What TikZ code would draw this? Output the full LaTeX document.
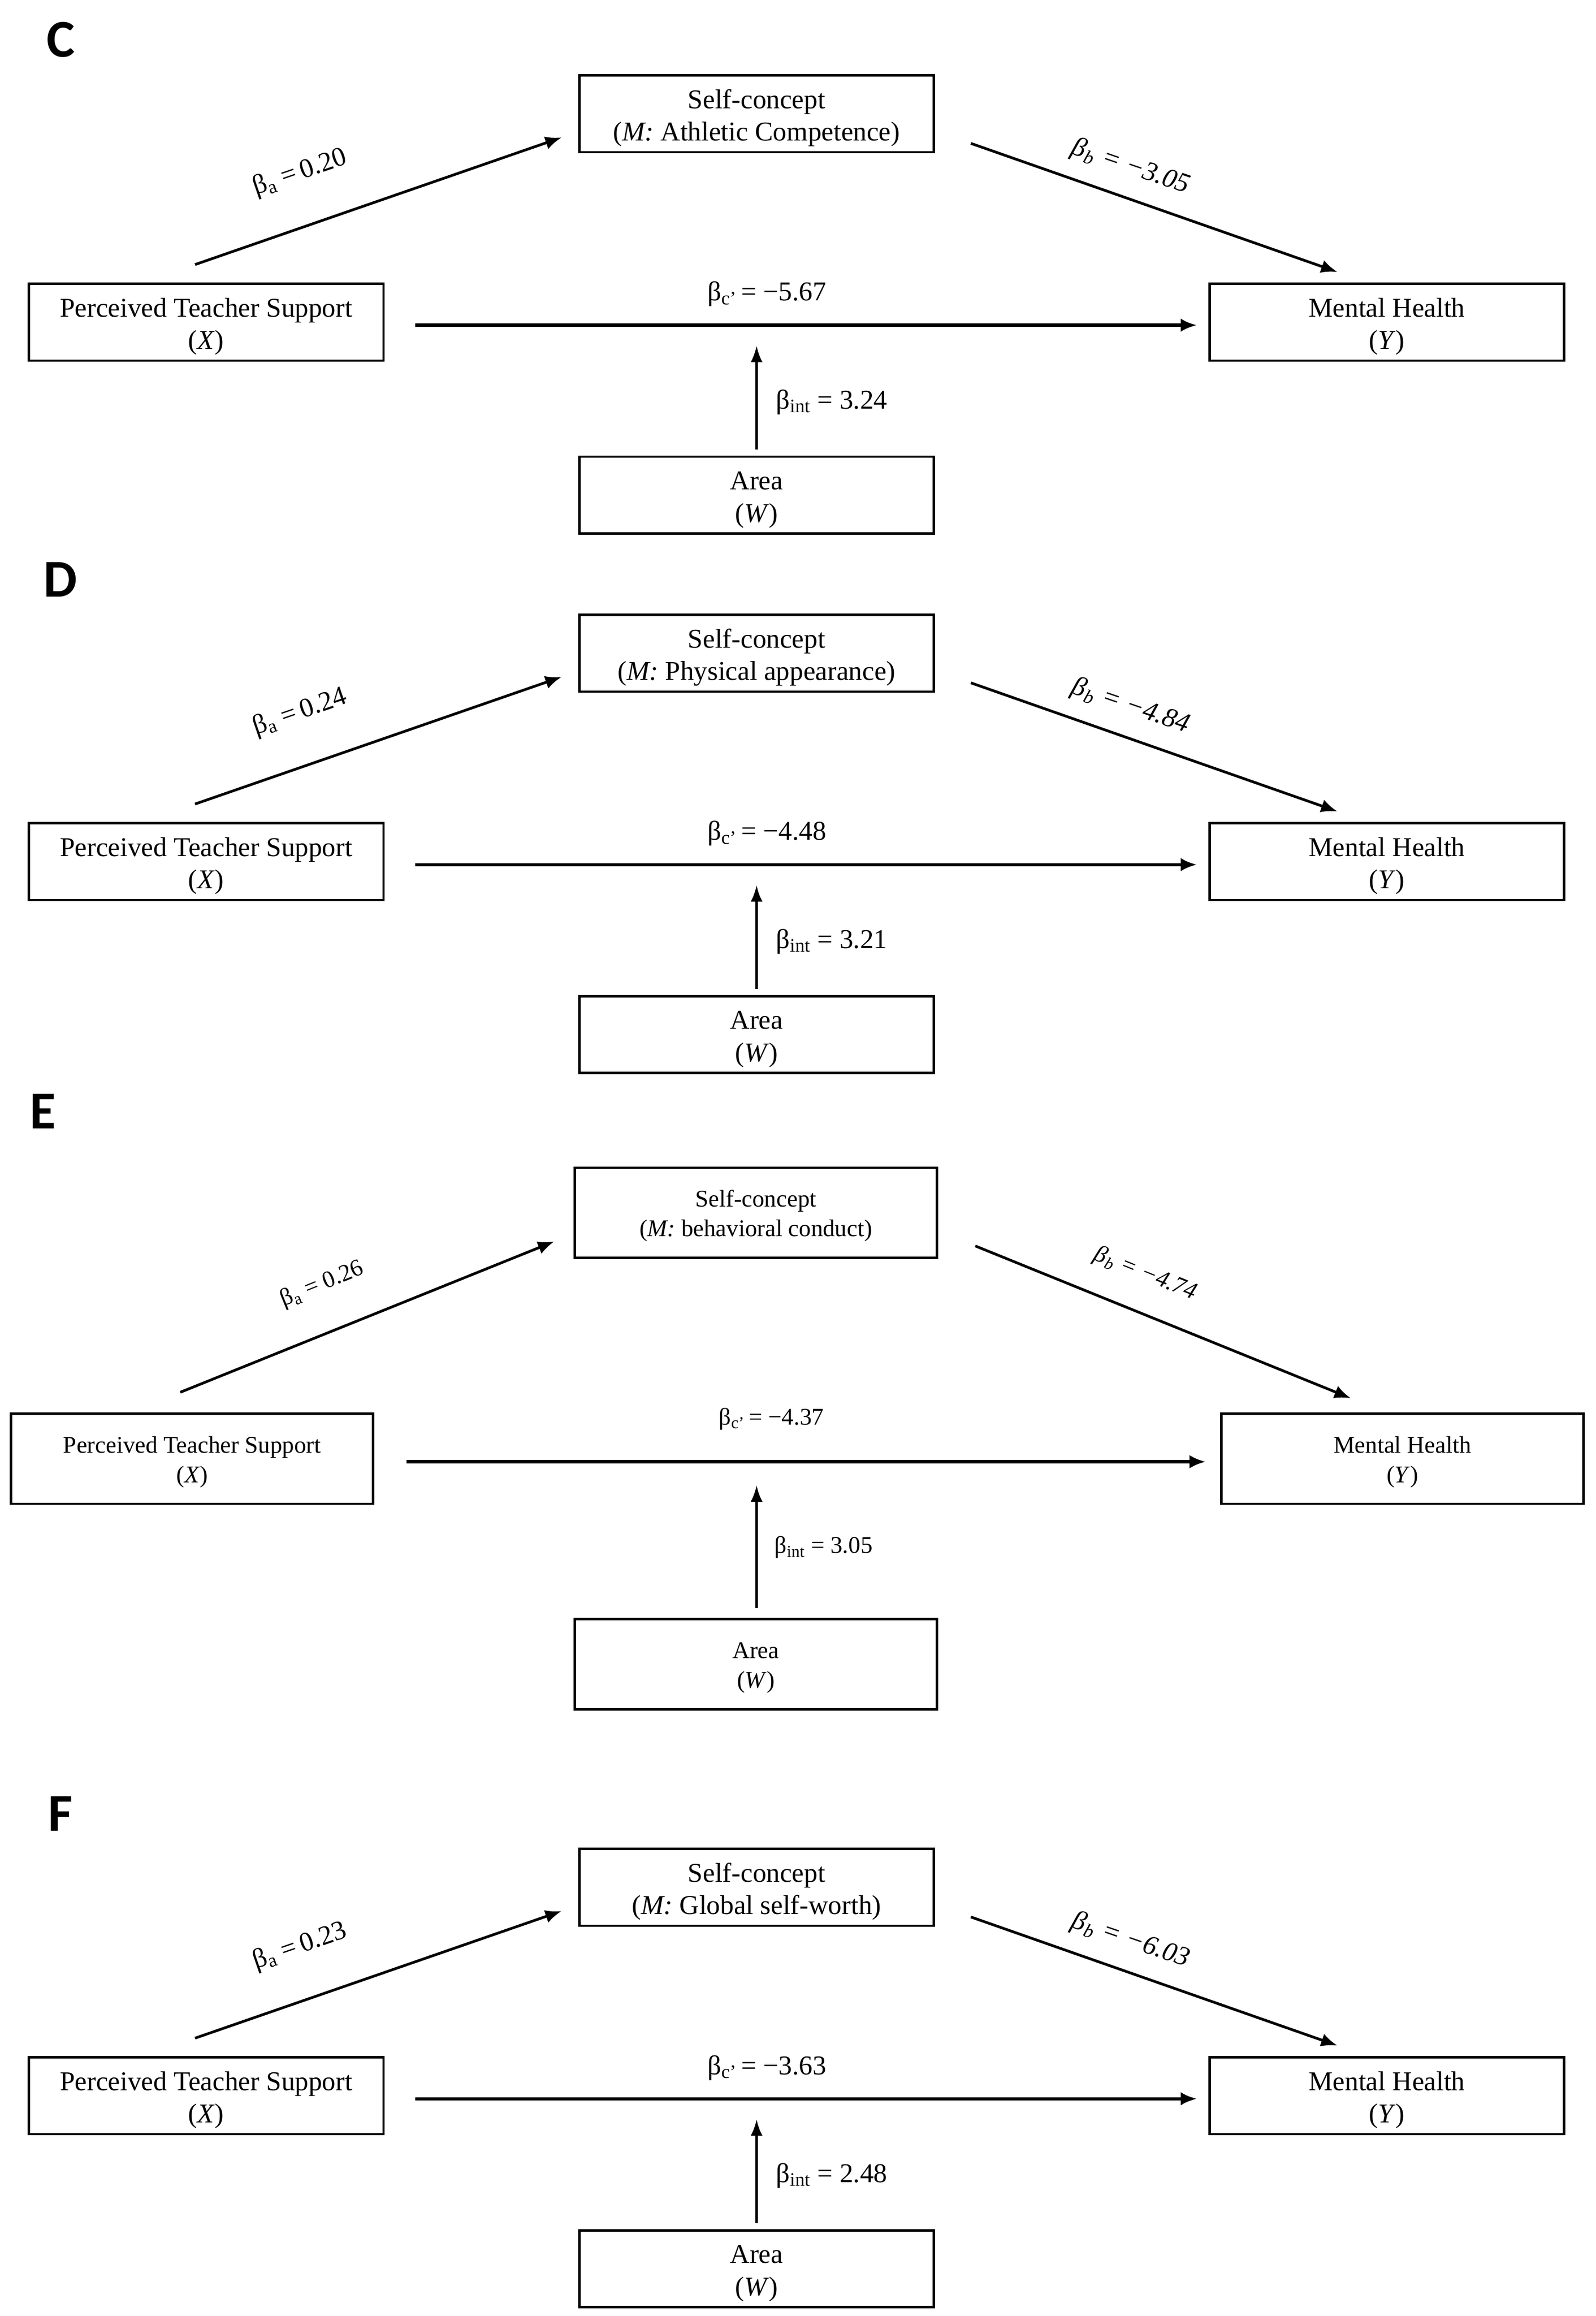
\documentclass[tikz,border=0pt]{standalone}
\usepackage{fontspec}
\setmainfont{Liberation Serif}
\newfontfamily\letterfont{Carlito}
\usetikzlibrary{arrows.meta}
\tikzset{
  box/.style={draw,line width=1.6pt,minimum width=240pt,minimum height=52pt,inner sep=0pt,align=center,font=\fontsize{18.4}{22}\selectfont},
  boxe/.style={draw,line width=1.6pt,minimum width=245pt,minimum height=61pt,inner sep=0pt,align=center,font=\fontsize{16.2}{20}\selectfont},
  panlabel/.style={font=\letterfont\bfseries\fontsize{36}{40}\selectfont,inner sep=0pt},
  lab/.style={font=\fontsize{18.4}{22}\selectfont,inner sep=0pt},
  labe/.style={font=\fontsize{16.2}{20}\selectfont,inner sep=0pt},
  arr/.style={line width=1.8pt,-{Latex[length=11pt,width=9pt]}},
  arrc/.style={line width=2.2pt,-{Latex[length=11pt,width=9pt]}},
  arri/.style={line width=1.5pt,-{Latex[length=11pt,width=8pt]}}
}
\newcommand\pstrut{\rule{0pt}{18.5pt}}
\newcommand\estrut{\rule{0pt}{15.5pt}}
\newcommand\panel[8]{%
\begin{scope}[shift={(0,#1)}]
\node[panlabel] (L#8) at (41,27) {#2};
\node[box] (M#8) at (512,77) {\pstrut Self-concept\\(\textit{M:} #3)};
\node[box] (X#8) at (139.5,218) {\pstrut Perceived Teacher Support\\(\textit{X})};
\node[box] (Y#8) at (938.5,218) {\pstrut Mental Health\\(\textit{Y})};
\node[box] (W#8) at (512,335) {\pstrut Area\\(\textit{W})};
\coordinate (a1#8) at (132,179); \coordinate (a2#8) at (380,93);
\coordinate (b1#8) at (657,97); \coordinate (b2#8) at (905,184);
\coordinate (c1#8) at (281,220); \coordinate (c2#8) at (810,220);
\coordinate (i1#8) at (512,304); \coordinate (i2#8) at (512,234);
\draw[arr] (a1#8) -- (a2#8);
\draw[arr] (b1#8) -- (b2#8);
\draw[arrc] (c1#8) -- (c2#8);
\draw[arri] (i1#8) -- (i2#8);
\node[lab,rotate=19] (la#8) at (203,117) {β\textsubscript{a} =\,#4};
\node[lab,rotate=-19,font=\itshape\fontsize{18.4}{22}\selectfont] (lb#8) at (765,113) {β\kern0.6pt\textsubscript{b} = −#5};
\node[lab] (lc#8) at (519,199) {β\textsubscript{c’}\,= −#6};
\node[lab,anchor=west] (li#8) at (525,272) {β\textsubscript{int} = #7};
\end{scope}}
\begin{document}
\begin{tikzpicture}[x=1pt,y=-1pt]
\useasboundingbox[fill=white] (0,0) rectangle (1080,1567);
\panel{0}{C}{Athletic Competence}{0.20}{3.05}{5.67}{3.24}{c}
\panel{365}{D}{Physical appearance}{0.24}{4.84}{4.48}{3.21}{d}
\panel{1200}{F}{Global self-worth}{0.23}{6.03}{3.63}{2.48}{f}
% Panel E
\node[panlabel] (Le) at (29,752) {E};
\node[boxe] (Me) at (511.5,820.5) {\estrut Self-concept\\(\textit{M:} behavioral conduct)};
\node[boxe] (Xe) at (130,987) {\estrut Perceived Teacher Support\\(\textit{X})};
\node[boxe] (Ye) at (949,987) {\estrut Mental Health\\(\textit{Y})};
\node[boxe] (We) at (511.5,1126) {\estrut Area\\(\textit{W})};
\coordinate (a1e) at (122,942); \coordinate (a2e) at (375,840);
\coordinate (b1e) at (660,843); \coordinate (b2e) at (914,946);
\coordinate (c1e) at (275,989); \coordinate (c2e) at (816,989);
\coordinate (i1e) at (512,1088); \coordinate (i2e) at (512,1005);
\draw[arr] (a1e) -- (a2e);
\draw[arr] (b1e) -- (b2e);
\draw[arrc] (c1e) -- (c2e);
\draw[arri] (i1e) -- (i2e);
\node[labe,rotate=22] (lae) at (218,869) {β\textsubscript{a} = 0.26};
\node[labe,rotate=-22,font=\itshape\fontsize{16.2}{20}\selectfont] (lbe) at (775,862) {β\kern0.6pt\textsubscript{b} = −4.74};
\node[labe] (lce) at (522,960) {β\textsubscript{c’}\,= −4.37};
\node[labe,anchor=west] (lie) at (524,1047) {β\textsubscript{int} = 3.05};
\end{tikzpicture}
\end{document}
